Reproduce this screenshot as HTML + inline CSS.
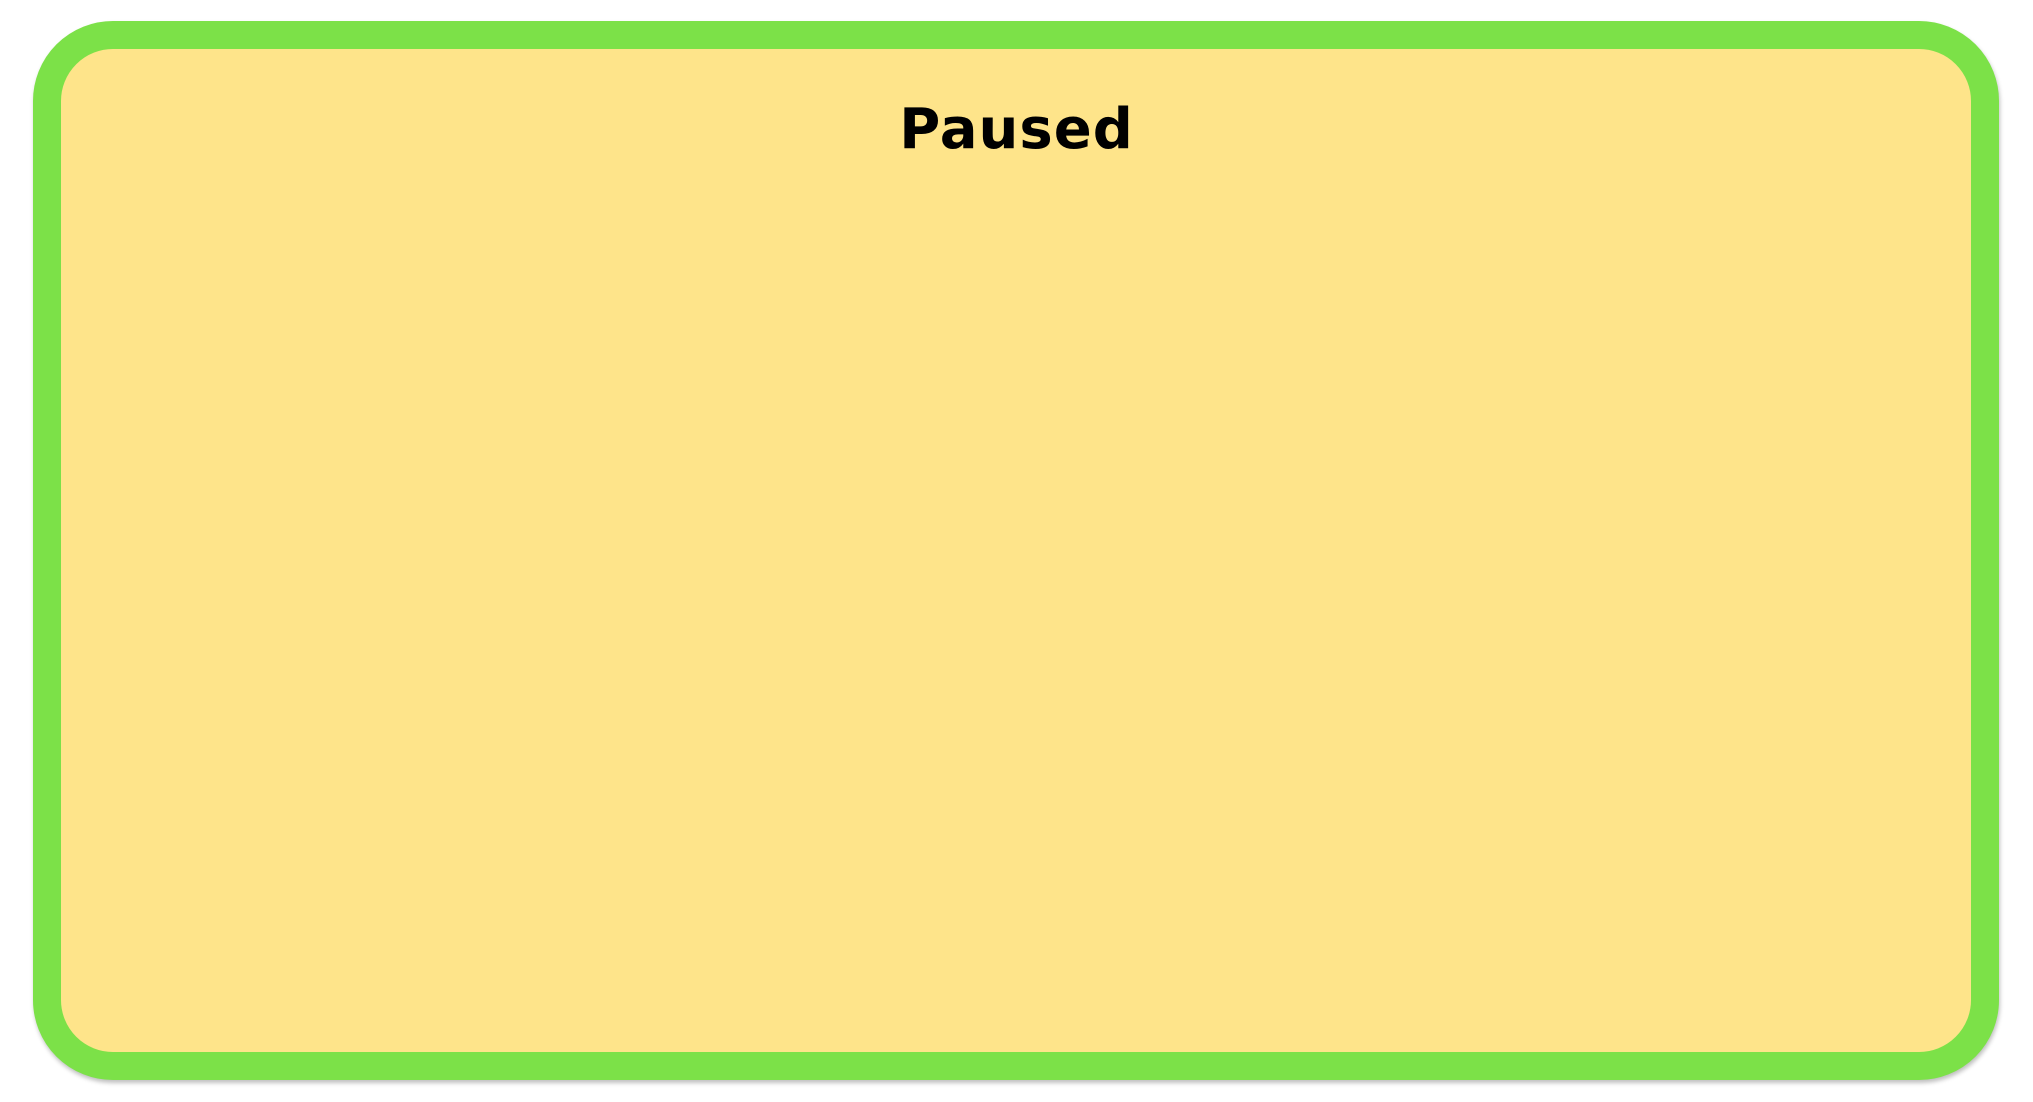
<!DOCTYPE html>
<html><head><meta charset="utf-8"><style>
html,body{margin:0;padding:0;width:2033px;height:1102px;background:#fff;overflow:hidden}
#panel{position:absolute;left:33px;top:21px;width:1910px;height:1003px;border:28px solid #7ce148;border-radius:80px;background:#fee48a;box-shadow:1px 3px 4px rgba(0,0,0,0.25)}
#title{position:absolute;left:0;right:0;top:100px;text-align:center;font-family:"DejaVu Sans","Liberation Sans",sans-serif;font-weight:bold;font-size:56px;line-height:60px;color:#000;letter-spacing:1px}
</style></head><body>
<div id="panel"></div>
<div id="title">Paused</div>
</body></html>
